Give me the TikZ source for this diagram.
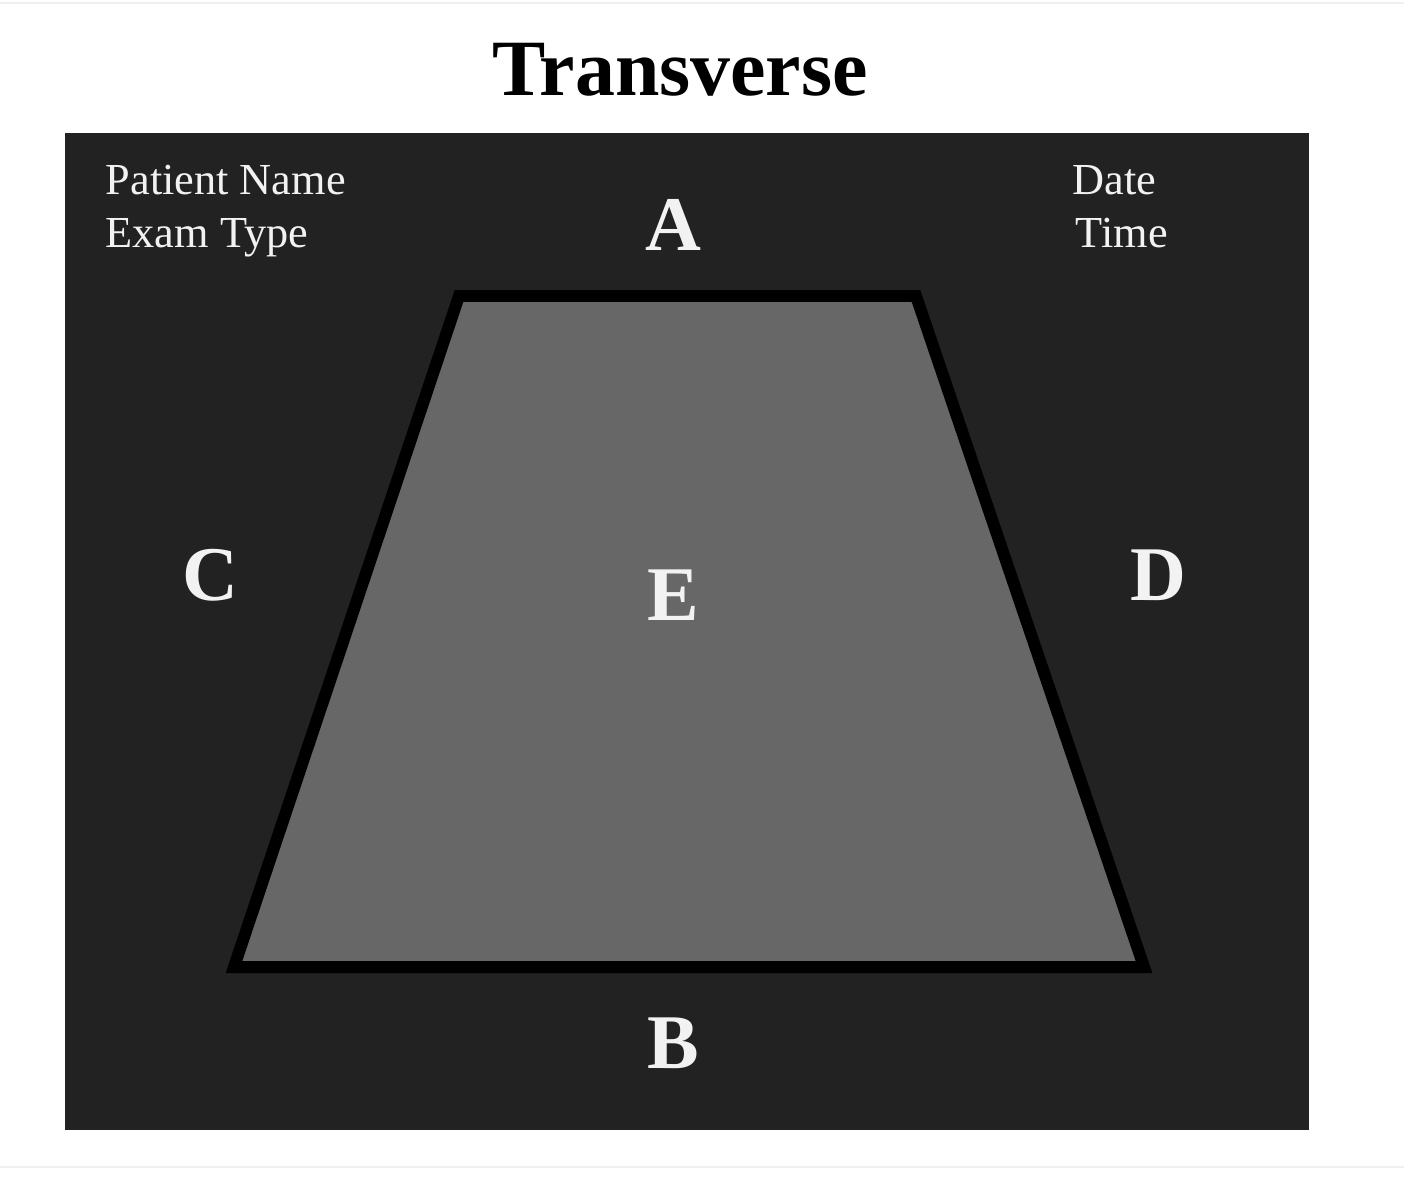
\documentclass[tikz,border=0pt]{standalone}
\usepackage{fontspec}
\setmainfont{Liberation Serif}
\definecolor{screen}{HTML}{222222}
\definecolor{field}{HTML}{676767}
\definecolor{rule}{HTML}{F0F0F0}
\definecolor{label}{HTML}{F2F2F2}
\tikzset{
  infotext/.style={anchor=base west, inner sep=0pt, text=label, font=\fontsize{12.6}{15}\selectfont},
  sidelabel/.style={anchor=base, inner sep=0pt, text=label, font=\fontsize{22}{26}\selectfont\bfseries}
}
\begin{document}
\begin{tikzpicture}[x=0.01cm, y=-0.01cm]
\useasboundingbox (0,0) rectangle (1404,1200);

% faint rules at top and bottom
\draw [rule, line width=0.8pt] (0,3)--(1404,3);
\draw [rule, line width=0.8pt] (0,1167)--(1404,1167);

% title
\node (title) [anchor=base, inner sep=0pt, font=\fontsize{22.7}{27}\selectfont\bfseries] at (680,95) {Transverse};

% dark screen
\fill [screen] (65,133) rectangle (1309,1130);

% the scanned field
\coordinate (tl) at (459,296);
\coordinate (tr) at (916,296);
\coordinate (br) at (1144,967);
\coordinate (bl) at (234,967);
\draw [fill=field, draw=black, line width=3.4pt, line join=miter] (tl)--(tr)--(br)--(bl)--cycle;

% header texts
\node (patient) [infotext] at (105,194) {Patient Name};
\node (exam) [infotext] at (105,247) {Exam Type};
\node (date) [infotext] at (1072,194) {Date};
\node (time) [infotext] at (1075,247) {Time};

% orientation labels
\node (A) [sidelabel] at (673,250) {A};
\node (C) [sidelabel] at (210,600) {C};
\node (D) [sidelabel] at (1158,600) {D};
\node (E) [sidelabel] at (673,620) {E};
\node (B) [sidelabel] at (673,1068) {B};

\end{tikzpicture}
\end{document}
